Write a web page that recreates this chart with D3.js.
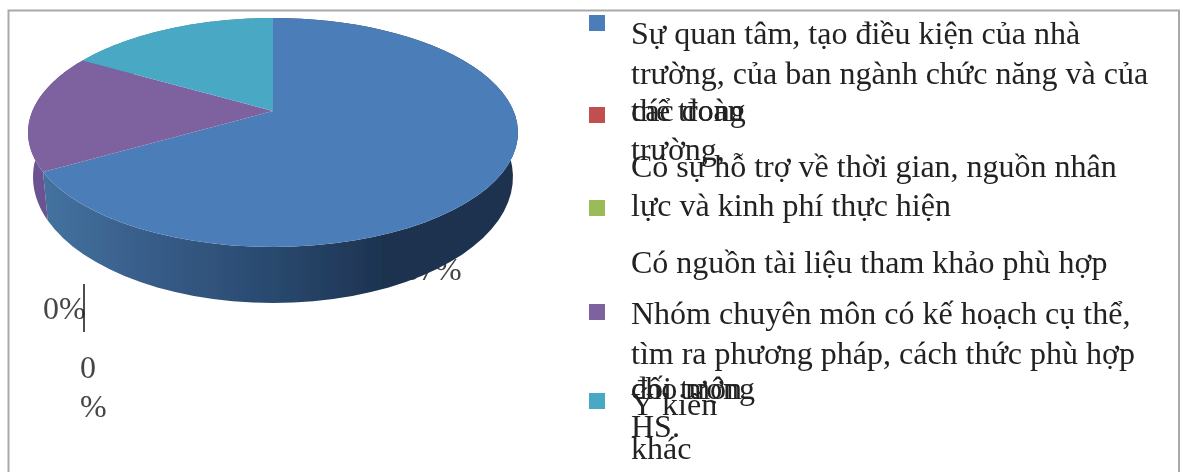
<!DOCTYPE html>
<html><head><meta charset="utf-8">
<script src="https://cdn.jsdelivr.net/npm/d3@7"></script>
<style>html,body{margin:0;padding:0;background:#fff}svg{display:block}text{font-family:"Liberation Serif",serif}</style>
</head><body><svg id="c" width="1183" height="472"></svg>
<script>
const categories = [
  "Sự quan tâm, tạo điều kiện của nhà trường, của ban ngành chức năng và của các đoàn thể trong trường",
  "Có sự hỗ trợ về thời gian, nguồn nhân lực và kinh phí thực hiện",
  "Có nguồn tài liệu tham khảo phù hợp",
  "Nhóm chuyên môn có kế hoạch cụ thể, tìm ra phương pháp, cách thức phù hợp đối tượng cho môn HS",
  "Ý kiến khác"
];
const shares = [66.67, 0, 0, 16.67, 16.67];
const colors = ["#4c7eb9", "#c0504d", "#9bbb59", "#7e629f", "#49a8c4"];
const sideColors = ["url(#sideBlue)", "#a03f3c", "#7f9a49", "#6a5290", "#3a8aa2"];
const legendLines = [
  "Sự quan tâm, tạo điều kiện của nhà", "trường, của ban ngành chức năng và của",
  "các đoàn", "thể trong", "trường,",
  "Có sự hỗ trợ về thời gian, nguồn nhân", "lực và kinh phí thực hiện",
  "Có nguồn tài liệu tham khảo phù hợp",
  "Nhóm chuyên môn có kế hoạch cụ thể,", "tìm ra phương pháp, cách thức phù hợp",
  "đối tượng", "cho môn", "Ý kiến", "HS.", "khác"
];
const sliceLabels = ["0%", "0", "%"];

const lineBaselines = [44, 84, 121, 121, 160, 177, 216, 273, 324, 364, 399, 399, 415, 437, 459];
const swatchTops = [15, 107, 200, 304, 393];
const svg = d3.select("#c");
const defs = svg.append("defs");
const blur = defs.append("filter").attr("id","soft").attr("x","-5%").attr("y","-5%").attr("width","110%").attr("height","110%");
blur.append("feGaussianBlur").attr("stdDeviation",0.6);
const grad = defs.append("linearGradient").attr("id","sideBlue").attr("gradientUnits","userSpaceOnUse")
  .attr("x1",45).attr("x2",385).attr("y1",0).attr("y2",0);
[[0,"#44729f"],[0.3,"#385d89"],[0.65,"#2a4a70"],[1,"#1d3350"]].forEach(s=>grad.append("stop").attr("offset",s[0]).attr("stop-color",s[1]));

const root = svg.append("g").attr("filter","url(#soft)");
root.append("path").attr("d","M8.5,472V10.5H1179V472").attr("fill","none").attr("stroke","#a9a9a9").attr("stroke-width",2);

// labels that sit behind and beneath the pie
const lab = root.append("g").attr("fill","#444").attr("font-size",32);
lab.append("text").attr("x",403).attr("y",280).text("67%");
lab.append("text").attr("x",43).attr("y",319).text(sliceLabels[0]);
lab.append("text").attr("x",80).attr("y",378).text(sliceLabels[1]);
lab.append("text").attr("x",80).attr("y",417).text(sliceLabels[2]);
root.append("line").attr("x1",84).attr("x2",84).attr("y1",284).attr("y2",332).attr("stroke","#222").attr("stroke-width",1.6);

// perspective projection of a unit disc
const k = 0.1878;
function projector(ax, ay, A, B){
  return t => { const x=Math.sin(t), y=Math.cos(t), w=1+k*y; return [ax+B*x/w, ay-A*y/w]; };
}
const topP = projector(273,111,110.46,240.6);
const botP = projector(273,153.3,121.6,235.7);
const pie = d3.pie().sort(null).value(d=>d);
const arcs = pie(shares);
const line = d3.line();
const samples = a => d3.range(0,61).map(i=>d3.scaleLinear().domain([0,60]).range([a.startAngle,a.endAngle])(i));

const walls = root.append("g"), tops = root.append("g");
arcs.forEach((a,i)=>{
  if(a.endAngle-a.startAngle<=0) return;
  const ts = samples(a);
  walls.append("path").attr("d",line(ts.map(topP).concat(ts.slice().reverse().map(botP)))+"Z").attr("fill",sideColors[i]);
});
arcs.forEach((a,i)=>{
  if(a.endAngle-a.startAngle<=0) return;
  const ts = samples(a);
  tops.append("path").attr("d",line([[273,111]].concat(ts.map(topP)))+"Z").attr("fill",colors[i]);
});

// legend
root.append("g").selectAll("rect").data(colors).join("rect")
  .attr("x",589).attr("y",(d,i)=>swatchTops[i]).attr("width",16).attr("height",16).attr("fill",d=>d);
root.append("g").attr("fill","#222").attr("font-size",32).selectAll("text").data(legendLines).join("text")
  .attr("x",631).attr("y",(d,i)=>lineBaselines[i]).text(d=>d);
</script></body></html>
